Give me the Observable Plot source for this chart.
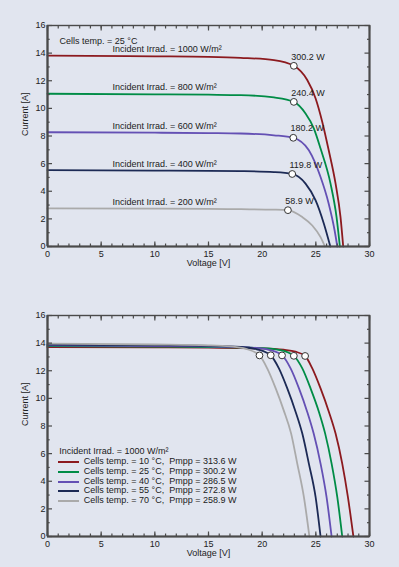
<!DOCTYPE html>
<html><head><meta charset="utf-8">
<script src="https://cdn.jsdelivr.net/npm/d3@7"></script>
<script src="https://cdn.jsdelivr.net/npm/@observablehq/plot@0.6"></script>
<style>
html,body{margin:0;padding:0;background:#e1e5ef;}
body{width:399px;height:567px;overflow:hidden;font-family:"Liberation Sans",Arial,sans-serif;}
#wrap{position:relative;width:399px;height:567px;}
#bottom{position:relative;}
svg{display:block;}
.legend{position:absolute;left:58px;top:157.4px;font-size:9px;color:#222;line-height:9.75px;white-space:pre;}
.legend .row{display:flex;align-items:center;height:9.75px;}
.legend .sw{display:inline-block;width:21px;height:2px;margin-right:4.8px;}
.legend .hd{padding-left:1.3px;}
</style></head><body><div id="wrap"><div id="top"></div><div id="bottom"></div></div>
<script>
// ---------- tick values ----------
const voltTicks = [0, 5, 10, 15, 20, 25, 30];
const voltMinor = [0,1,2,3,4,5,6,7,8,9,10,11,12,13,14,15,16,17,18,19,20,21,22,23,24,25,26,27,28,29,30];
const currTicks = [0, 2, 4, 6, 8, 10, 12, 14, 16];
const currMinor = [1, 3, 5, 7, 9, 11, 13, 15];

// ---------- top chart: irradiance at 25 °C ----------
const irradLevels = [1000, 800, 600, 400, 200];
const irradPmpp = [300.2, 240.4, 180.2, 119.8, 58.9];
const irradVmpp = [22.95, 22.95, 22.9, 22.8, 22.4];
const irradImpp = [13.08, 10.47, 7.87, 5.25, 2.63];

const v1000 = [0, 10, 15, 18, 21.1, 22.95, 24.2, 24.98, 25.6, 26.2, 26.84, 27.3, 27.55];
const i1000 = [13.82, 13.77, 13.73, 13.66, 13.5, 13.08, 12.05, 10.72, 9.02, 6.97, 4.55, 2.13, 0];
const v800 = [0, 10, 15, 18, 21.1, 22.95, 24.04, 24.82, 25.44, 26.37, 26.93, 27.24];
const i800 = [11.06, 11.02, 10.99, 10.96, 10.79, 10.47, 9.63, 8.54, 7.09, 4.55, 2.13, 0];
const v600 = [0, 10, 15, 18, 21.1, 22.9, 24.35, 25.44, 26.2, 26.75, 27.0];
const i600 = [8.27, 8.24, 8.21, 8.18, 8.05, 7.87, 6.97, 5.03, 3.1, 1.16, 0];
const v400 = [0, 10, 15, 18, 21.1, 22.8, 24.04, 24.98, 25.75, 26.35];
const i400 = [5.53, 5.5, 5.48, 5.46, 5.39, 5.25, 4.55, 3.34, 1.65, 0];
const v200 = [0, 10, 15, 18, 21.1, 22.4, 23.74, 24.67, 25.44, 25.85];
const i200 = [2.76, 2.74, 2.72, 2.7, 2.67, 2.63, 2.13, 1.52, 0.68, 0];

// ---------- bottom chart: temperature at 1000 W/m² ----------
const cellTemps = [10, 25, 40, 55, 70];
const tempPmpp = [313.6, 300.2, 286.5, 272.8, 258.9];
const tempVmpp = [24.0, 22.95, 21.85, 20.8, 19.75];
const tempImpp = [13.07, 13.08, 13.11, 13.12, 13.11];

const vT10 = [0, 10, 15, 20, 22, 23.1, 24.0, 24.67, 25.44, 26.22, 26.84, 27.46, 27.99, 28.5];
const iT10 = [13.71, 13.69, 13.67, 13.62, 13.52, 13.38, 13.07, 12.17, 10.72, 9.02, 7.45, 5.28, 2.85, 0];
const vT25 = [0, 10, 15, 20, 21.8, 22.95, 23.74, 24.51, 25.29, 25.87, 26.47, 27.0, 27.46];
const iT25 = [13.78, 13.75, 13.72, 13.64, 13.48, 13.08, 12.17, 10.72, 9.02, 7.45, 5.28, 2.85, 0];
const vT40 = [0, 10, 15, 19, 20.7, 21.85, 22.65, 23.43, 24.2, 24.8, 25.44, 26.0, 26.47];
const iT40 = [13.83, 13.79, 13.76, 13.68, 13.5, 13.11, 12.17, 10.72, 9.02, 7.45, 5.28, 2.85, 0];
const vT55 = [0, 10, 15, 18, 19.5, 20.78, 21.56, 22.34, 23.12, 23.74, 24.35, 24.98, 25.44];
const iT55 = [13.89, 13.84, 13.8, 13.72, 13.55, 13.12, 12.17, 10.72, 9.02, 7.45, 5.28, 2.85, 0];
const vT70 = [0, 10, 15, 17, 18.5, 19.75, 20.47, 21.26, 22.0, 22.7, 23.27, 23.89, 24.4];
const iT70 = [13.96, 13.9, 13.84, 13.76, 13.58, 13.11, 12.17, 10.72, 9.15, 7.45, 5.28, 2.85, 0];

// ---------- styles ----------
const seriesColors = ["#8c1a1f", "#008c46", "#6450b4", "#1c2a55", "#aaaaaa"];
const axisColor = "#4a4a4a";

// ---------- build tables ----------
const topV = [v1000, v800, v600, v400, v200];
const topI = [i1000, i800, i600, i400, i200];
const topCurves = irradLevels.flatMap((g, k) => topV[k].map((v, j) => ({g, v, i: topI[k][j], c: seriesColors[k]})));
const topMpp = irradLevels.map((g, k) => ({g, v: irradVmpp[k], i: irradImpp[k], p: irradPmpp[k]}));
const topStart = irradLevels.map((g, k) => ({g, v: topV[k][0], i: topI[k][0]}));

const botV = [vT10, vT25, vT40, vT55, vT70];
const botI = [iT10, iT25, iT40, iT55, iT70];
const botCurves = cellTemps.flatMap((t, k) => botV[k].map((v, j) => ({t, v, i: botI[k][j], c: seriesColors[k]})));
const botMpp = cellTemps.map((t, k) => ({t, v: tempVmpp[k], i: tempImpp[k], p: tempPmpp[k]}));

function frameMarks() {
  const none = () => "";
  return [
    Plot.axisX({ticks: voltMinor, tickSize: -2.5, tickFormat: none, label: null, stroke: axisColor, strokeWidth: 1.2}),
    Plot.axisX({ticks: voltTicks, tickSize: -4.5, tickFormat: none, label: null, stroke: axisColor, strokeWidth: 1.2}),
    Plot.axisX({ticks: voltTicks, tickSize: 0, tickPadding: 4, label: null, fill: "#222"}),
    Plot.axisX({anchor: "top", ticks: voltMinor, tickSize: -2.5, tickFormat: none, label: null, stroke: axisColor, strokeWidth: 1.2}),
    Plot.axisX({anchor: "top", ticks: voltTicks, tickSize: -4.5, tickFormat: none, label: null, stroke: axisColor, strokeWidth: 1.2}),
    Plot.axisY({ticks: currMinor, tickSize: -2.7, tickFormat: none, label: null, stroke: axisColor, strokeWidth: 1.2}),
    Plot.axisY({ticks: currTicks, tickSize: -5, tickFormat: none, label: null, stroke: axisColor, strokeWidth: 1.2}),
    Plot.axisY({ticks: currTicks, tickSize: 0, tickPadding: 2, label: null, fill: "#222"}),
    Plot.axisY({anchor: "right", ticks: currMinor, tickSize: -3, tickFormat: none, label: null, stroke: axisColor, strokeWidth: 1.2}),
    Plot.axisY({anchor: "right", ticks: currTicks, tickSize: -5.5, tickFormat: none, label: null, stroke: axisColor, strokeWidth: 1.2}),
    Plot.frame({stroke: axisColor, strokeWidth: 1.4}),
    Plot.ruleX([0], {stroke: axisColor, strokeWidth: 2.2}),
    Plot.ruleX([30], {stroke: axisColor, strokeWidth: 2}),
    Plot.ruleY([0], {stroke: axisColor, strokeWidth: 2.2}),
    Plot.text(["Voltage [V]"], {frameAnchor: "bottom", dy: 19, text: d => d, fill: "#222"}),
    Plot.text(["Current [A]"], {frameAnchor: "left", dx: -22, rotate: -90, text: d => d, fill: "#222"})
  ];
}

const common = {
  width: 399,
  marginLeft: 47,
  marginRight: 30,
  marginTop: 25,
  x: {domain: [0, 30], label: null},
  y: {domain: [0, 16], label: null},
  style: {background: "transparent", fontFamily: "'Liberation Sans', Arial, sans-serif", fontSize: "9px", color: "#222", overflow: "visible"}
};

const topPlot = Plot.plot({
  ...common,
  height: 290,
  marginBottom: 44,
  marks: [
    Plot.line(topCurves, {x: "v", y: "i", z: "g", stroke: "c", strokeWidth: 1.8, curve: "monotone-x"}),
    Plot.text(topStart, {x: "v", y: "i", text: d => `Incident Irrad. = ${d.g} W/m²`, textAnchor: "start", dx: 65, dy: -6.4, fill: "#222"}),
    Plot.dot(topMpp, {x: "v", y: "i", r: 3.4, fill: "white", stroke: "#333", strokeWidth: 1}),
    Plot.text(topMpp, {x: "v", y: "i", text: d => `${d.p.toFixed(1)} W`, textAnchor: "start", dx: -2.7, dy: -9.2, fill: "#222"}),
    Plot.text(["Cells temp. = 25 °C"], {frameAnchor: "top-left", dx: 12, dy: 12.6, textAnchor: "start", text: d => d, fill: "#222"}),
    ...frameMarks()
  ]
});
document.getElementById("top").appendChild(topPlot);

const botPlot = Plot.plot({
  ...common,
  height: 277,
  marginBottom: 31,
  marks: [
    Plot.line(botCurves, {x: "v", y: "i", z: "t", stroke: "c", strokeWidth: 1.8, curve: "monotone-x"}),
    Plot.dot(botMpp, {x: "v", y: "i", r: 3.4, fill: "white", stroke: "#333", strokeWidth: 1}),
    ...frameMarks()
  ]
});
const bottom = document.getElementById("bottom");
bottom.appendChild(botPlot);

// legend inside the lower chart
const legend = document.createElement("div");
legend.className = "legend";
const hd = document.createElement("div");
hd.className = "row hd";
hd.textContent = `Incident Irrad. = ${irradLevels[0]} W/m²`;
legend.appendChild(hd);
cellTemps.forEach((t, k) => {
  const row = document.createElement("div");
  row.className = "row";
  const sw = document.createElement("span");
  sw.className = "sw";
  sw.style.background = seriesColors[k];
  const tx = document.createElement("span");
  tx.textContent = `Cells temp. = ${t} °C,  Pmpp = ${tempPmpp[k].toFixed(1)} W`;
  row.appendChild(sw);
  row.appendChild(tx);
  legend.appendChild(row);
});
bottom.appendChild(legend);
</script>
</body></html>
